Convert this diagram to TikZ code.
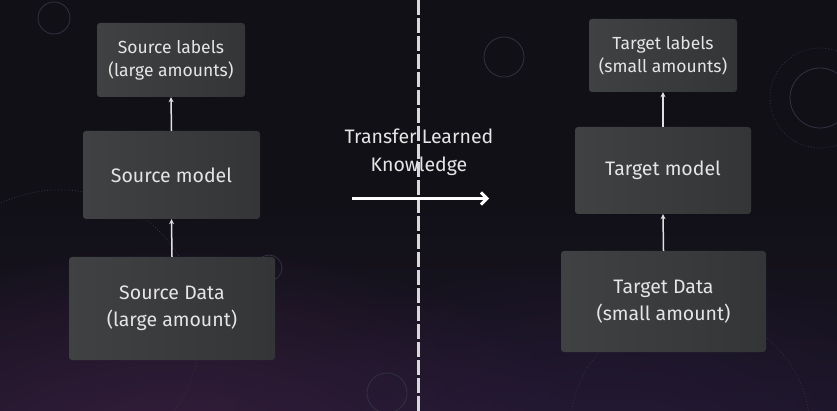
\documentclass[tikz,border=0pt]{standalone}
\usepackage{fontspec}
\setmainfont{Fira Sans}
\usetikzlibrary{arrows.meta,shadings,fadings}
\tikzfading[name=glowfade, inner color=transparent!0, outer color=transparent!100]
\definecolor{bgtop}{HTML}{111017}
\definecolor{bgbot}{HTML}{1B1526}
\definecolor{glow}{HTML}{3A1F40}
\definecolor{glowb}{HTML}{2A1C3E}
\definecolor{boxfilll}{HTML}{404143}
\definecolor{boxfillr}{HTML}{343537}
\definecolor{deco}{HTML}{33313F}
\tikzset{
  box/.style={draw=none, rounded corners=3pt, left color=boxfilll, right color=boxfillr,
    text=white!90!black, align=center, inner sep=0pt},
  flow/.style={draw=white!88!black, line width=1.5pt, -{Stealth[length=5pt,width=5pt]}},
  lbl/.style={font=\fontsize{17.5}{23}\selectfont},
  mdl/.style={font=\fontsize{19.5}{27}\selectfont},
  decoc/.style={draw=deco, line width=0.8pt},
}
\begin{document}
\begin{tikzpicture}[x=1pt,y=-1pt]
\useasboundingbox (0,0) rectangle (837,411);
\shade[top color=bgtop, bottom color=bgbot, middle color=bgtop] (0,0) rectangle (837,411);
\begin{scope}
\clip (0,0) rectangle (837,411);
\fill[glow, path fading=glowfade, opacity=0.9] (180,470) ellipse (420 and 230);
\fill[glowb, path fading=glowfade, opacity=0.7] (600,470) ellipse (380 and 220);
% faint decorative circles
\draw[decoc] (54,18) circle (16);
\draw[decoc] (504,57) circle (20);
\draw[decoc] (820,98) circle (30);
\draw[decoc] (269,268) circle (13);
\draw[decoc] (387,393) circle (20);
\draw[decoc, dotted] (820,98) circle (50);
\draw[decoc, dotted] (690,430) circle (120);
\draw[decoc, dotted] (60,330) circle (140);
\end{scope}
% boxes
\node[box, lbl, minimum width=148, minimum height=74] (sl) at (171,60) {Source labels\\(large amounts)};
\node[box, mdl, minimum width=177, minimum height=88] (sm) at (171.5,175) {Source model};
\node[box, mdl, minimum width=206, minimum height=103] (sd) at (172,308.5) {Source Data\\(large amount)};
\node[box, lbl, minimum width=148, minimum height=73] (tl) at (663,55.5) {Target labels\\(small amounts)};
\node[box, mdl, minimum width=176, minimum height=87] (tm) at (663,170.5) {Target model};
\node[box, mdl, minimum width=205, minimum height=101] (td) at (663.5,301.5) {Target Data\\(small amount)};
% flows
\draw[flow] (sm.north) -- (sl.south);
\draw[flow] (sd.north) -- (sm.south);
\draw[flow] (tm.north) -- (tl.south);
\draw[flow] (td.north) -- (tm.south);
% divider
\coordinate (dtop) at (418.5,0);
\coordinate (dbot) at (418.5,411);
\draw[white!85!black, line width=2.4pt, dash pattern=on 15pt off 3pt] (dtop) -- (dbot);
% transfer
\node[text=white!90!black, align=center, font=\fontsize{19.5}{28}\selectfont] (tt) at (419,152) {Transfer Learned\\Knowledge};
\coordinate (ta) at (352,198.5);
\coordinate (tb) at (489,198.5);
\draw[white, line width=3pt, -{Straight Barb[length=6pt,width=12pt]}] (ta) -- (tb);
\end{tikzpicture}
\end{document}
